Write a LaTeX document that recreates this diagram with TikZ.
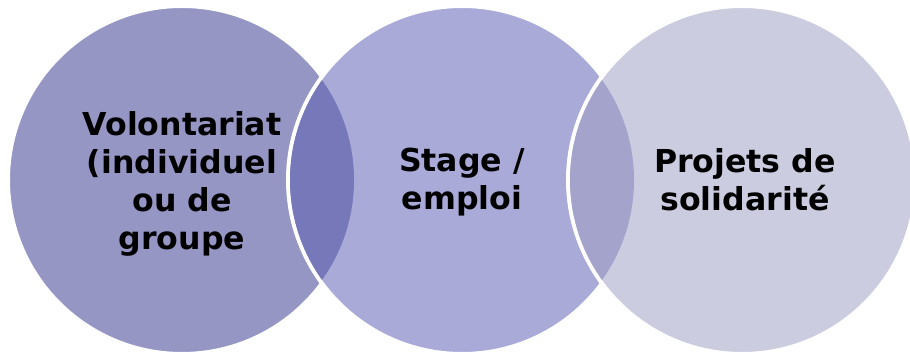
\documentclass[tikz,border=0pt]{standalone}
\usepackage{fontspec}
\setmainfont{DejaVu Sans}
\usepackage{tikz}
\usetikzlibrary{positioning}

\definecolor{ringone}{HTML}{9596C4}
\definecolor{ringtwo}{HTML}{A9AAD8}
\definecolor{ringthree}{HTML}{CBCCE0}
\definecolor{lensone}{HTML}{7778B9}
\definecolor{lenstwo}{HTML}{A3A3CB}

\begin{document}
\begin{tikzpicture}[
    x=1pt, y=1pt,
    ring/.style={circle, minimum size=348pt, inner sep=0pt, draw=white, line width=4pt},
    word/.style={align=center, font=\bfseries\fontsize{31.6}{38}\selectfont, text=black}
]
\useasboundingbox (0,0) rectangle (910,353);

% === CIRCLES ===

\node[ring, fill=ringone] (c1) at (182,173) {};
\node[ring, fill=ringtwo] (c2) at (462,173) {};
\node[ring, fill=ringthree] (c3) at (742,173) {};

% === OVERLAPS ===

% c1 and c2
\begin{scope}
  \clip (c1.center) circle (172);
  \fill[lensone] (c2.center) circle (172);
\end{scope}

% c2 and c3
\begin{scope}
  \clip (c2.center) circle (172);
  \fill[lenstwo] (c3.center) circle (172);
\end{scope}

% === TEXTS ===

\node[word] (t1) at ([yshift=-4]c1.center) {Volontariat\\(individuel\\ou de\\groupe};
\node[word] (t2) at ([yshift=-2]c2.center) {Stage /\\emploi};
\node[word] (t3) at ([xshift=3]c3.center) {Projets de\\solidarité};

\end{tikzpicture}
\end{document}
